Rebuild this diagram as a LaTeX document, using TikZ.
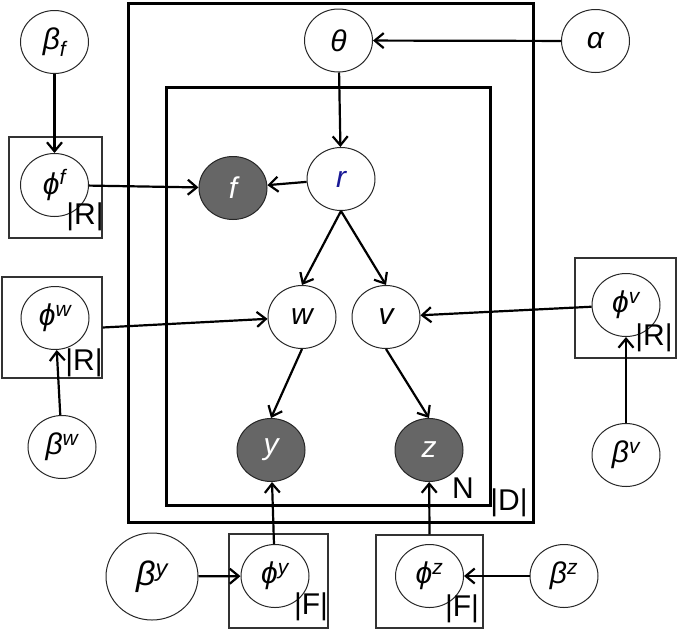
\documentclass[tikz,border=0pt]{standalone}
\usepackage{fontspec}
\setmainfont{Liberation Sans}
\usetikzlibrary{arrows.meta,shapes.geometric}
\definecolor{rblue}{RGB}{25,25,150}
\begin{document}
\begin{tikzpicture}[x=1pt,y=-1pt,
  var/.style={ellipse, draw=black!85, line width=1pt, fill=white, minimum width=68pt, minimum height=63pt, inner sep=0pt, font=\fontsize{30}{33}\selectfont\itshape},
  obs/.style={var, fill=black!60, text=white},
  plate/.style={draw, line width=3pt},
  pbox/.style={draw=black!80, line width=1.2pt, inner sep=0pt},
  lbl/.style={inner sep=0pt, font=\fontsize{30}{32}\selectfont},
  edge/.style={line width=2.2pt, -{Straight Barb[length=9pt,width=15pt,line width=2.2pt]}}]
\useasboundingbox (0,0) rectangle (677,630);
% plates
\draw[plate] (128,3) rectangle (533,522);
\draw[plate] (166,87) rectangle (490,505);
% small plates
\node[pbox, minimum width=93pt, minimum height=101pt] (boxf) at (55.5,187.5) {};
\node[pbox, minimum width=100pt, minimum height=101pt] (boxw) at (52,327.5) {};
\node[pbox, minimum width=101pt, minimum height=100pt] (boxv) at (625.5,308) {};
\node[pbox, minimum width=99pt, minimum height=94pt] (boxy) at (278.5,581) {};
\node[pbox, minimum width=107pt, minimum height=93pt] (boxz) at (429.5,581.5) {};
% nodes
\node[var] (theta) at (338.5,40.5) {θ};
\node[var] (alpha) at (595.5,41) {α};
\node[var] (betaf) at (54.5,42) {β\textsubscript{f}};
\node[var] (phif) at (54.5,185) {ϕ\textsuperscript{f}};
\node[var, text=rblue] (r) at (341,179) {r};
\node[obs] (f) at (233,188) {f};
\node[var] (w) at (302,317) {w};
\node[var] (v) at (386,317) {v};
\node[obs] (y) at (271,450) {y};
\node[obs] (z) at (429,450) {z};
\node[var] (phiw) at (55,318) {ϕ\textsuperscript{w}};
\node[var] (betaw) at (62,447) {β\textsuperscript{w}};
\node[var] (phiv) at (626,305) {ϕ\textsuperscript{v}};
\node[var] (betav) at (626,455) {β\textsuperscript{v}};
\node[var, minimum width=92pt, minimum height=87pt, font=\fontsize{34}{37}\selectfont\itshape] (betay) at (152,576.5) {β\textsuperscript{y}};
\node[var] (phiy) at (275,576) {ϕ\textsuperscript{y}};
\node[var] (phiz) at (429.5,576) {ϕ\textsuperscript{z}};
\node[var] (betaz) at (564,576) {β\textsuperscript{z}};
% labels
\node[lbl] (lRf) at (85,217) {|R|};
\node[lbl] (lRw) at (84,363) {|R|};
\node[lbl] (lRv) at (654,338) {|R|};
\node[lbl] (lFy) at (311,607) {|F|};
\node[lbl] (lFz) at (462,609) {|F|};
\node[lbl] (lN) at (463,488) {N};
\node[lbl] (lD) at (509,503) {|D|};
% edges
\draw[edge] (alpha) -- (theta);
\draw[edge] (theta) -- (r);
\draw[edge] (r) -- (f);
\draw[edge] (r.south) -- (w.north);
\draw[edge] (r.south) -- (v.north);
\draw[edge] (w.south) -- (y.north);
\draw[edge] (v.south) -- (z.north);
\draw[edge] (betaf) -- (phif);
\draw[edge] (phif) -- (f);
\draw[edge] (boxw.east) -- (w);
\draw[edge] (betaw) -- (phiw);
\draw[edge] (phiv) -- (v);
\draw[edge] (betav) -- (phiv);
\draw[edge] (betay) -- (phiy);
\draw[edge] (phiy) -- (y);
\draw[edge] (boxz.north) -- (z);
\draw[edge] (betaz) -- (phiz);
\end{tikzpicture}
\end{document}
